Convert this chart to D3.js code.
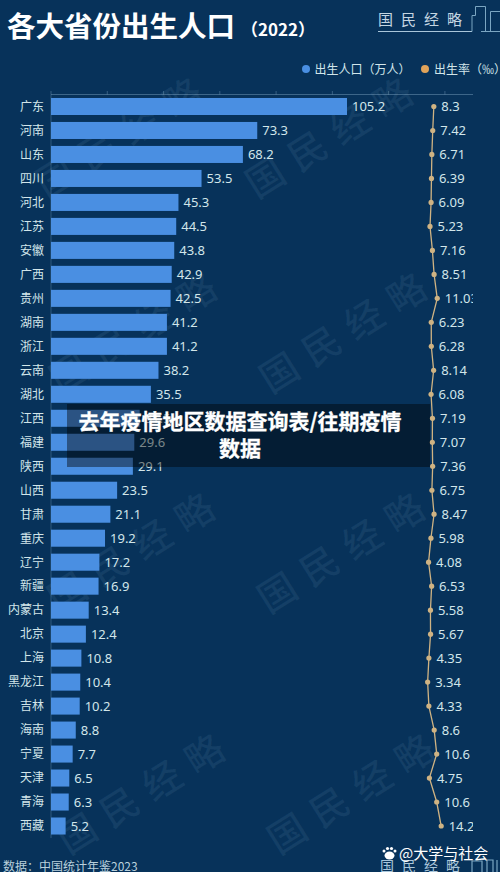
<!DOCTYPE html>
<html><head><meta charset="utf-8">
<script src="https://cdn.jsdelivr.net/npm/d3@7/dist/d3.min.js"></script>
<style>html,body{margin:0;padding:0;background:#07325a;overflow:hidden}svg{display:block}
text{font-family:"Noto Sans CJK SC","Noto Sans",sans-serif}</style></head><body>
<script>
const provinces=["广东","河南","山东","四川","河北","江苏","安徽","广西","贵州","湖南","浙江","云南","湖北","江西","福建","陕西","山西","甘肃","重庆","辽宁","新疆","内蒙古","北京","上海","黑龙江","吉林","海南","宁夏","天津","青海","西藏"];
const births=[105.2,73.3,68.2,53.5,45.3,44.5,43.8,42.9,42.5,41.2,41.2,38.2,35.5,31.5,29.6,29.1,23.5,21.1,19.2,17.2,16.9,13.4,12.4,10.8,10.4,10.2,8.8,7.7,6.5,6.3,5.2];
const rates=[8.3,7.42,6.71,6.39,6.09,5.23,7.16,8.51,11.03,6.23,6.28,8.14,6.08,7.19,7.07,7.36,6.75,8.47,5.98,4.08,6.53,5.58,5.67,4.35,3.34,4.33,8.6,10.6,4.75,10.6,14.2];
const axisTicks=[0,20,40,60,80,100,120,140];
const legendLabels=["出生人口（万人）","出生率（‰）"];
const overlayLines=["去年疫情地区数据查询表/往期疫情","数据"];
const watermarkCentres=[[334,135],[348,330],[346,550],[356,791],[124,135],[138,330],[136,550],[146,791]];
const W=500,H=872;
const svg=d3.select("body").append("svg").attr("width",W).attr("height",H);
const blue="#4a8fe2",gold="#cfb383",labelC="#d2e6ea";
svg.append("rect").attr("width",W).attr("height",H).attr("fill","#07325a");

svg.append("defs").append("clipPath").attr("id","plotClip").append("rect").attr("x",0).attr("y",0).attr("width",473).attr("height",H);

// watermarks
svg.append("g").selectAll("text").data(watermarkCentres).join("text")
  .attr("transform",d=>`translate(${d[0]},${d[1]}) rotate(-32)`).attr("text-anchor","middle").attr("dy",".36em")
  .attr("font-size",38).attr("font-weight",500).attr("letter-spacing",12).attr("fill","#9cc4e0").attr("fill-opacity",.09)
  .text("国民经略");

const x=d3.scaleLinear().domain([0,105.2]).range([51,347]);
const xr=d3.scaleLinear().domain([5.23,14.2]).range([430,441.2]);
const y=d3.scaleBand().domain(provinces).range([94.5,838]).paddingInner(.29).paddingOuter(.145);
const cy=d=>y(d)+y.bandwidth()/2;

// axis
svg.append("line").attr("x1",51).attr("x2",51).attr("y1",94.5).attr("y2",838).attr("stroke","#8fb4d0").attr("stroke-opacity",.3);
svg.append("line").attr("x1",51).attr("x2",473).attr("y1",94.5).attr("y2",94.5).attr("stroke","#8fb4d0").attr("stroke-opacity",.4);
svg.append("g").selectAll("line").data(axisTicks).join("line")
  .attr("x1",d=>x(d)).attr("x2",d=>x(d)).attr("y1",91).attr("y2",94.5)
  .attr("stroke","#8fb4d0").attr("stroke-opacity",.35);

// bars
svg.append("g").selectAll("rect").data(births).join("rect")
  .attr("x",x(0)).attr("y",(d,i)=>y(provinces[i])).attr("width",d=>x(d)-x(0)).attr("height",y.bandwidth()).attr("fill",blue);
svg.append("g").selectAll("text").data(births).join("text")
  .attr("x",d=>x(d)+5).attr("y",(d,i)=>cy(provinces[i])).attr("dy",".36em")
  .attr("font-size",13).style("font-family","'Noto Sans'").attr("fill",labelC).text(d=>d);
svg.append("g").selectAll("text").data(provinces).join("text")
  .attr("x",44).attr("y",d=>cy(d)).attr("dy",".36em").attr("text-anchor","end")
  .attr("font-size",12).attr("fill",labelC).text(d=>d);

// line
const line=d3.line().x(d=>xr(d)).y((d,i)=>cy(provinces[i]));
svg.append("path").datum(rates).attr("d",line).attr("fill","none").attr("stroke",gold).attr("stroke-width",1.3);
svg.append("g").selectAll("circle").data(rates).join("circle")
  .attr("cx",d=>xr(d)).attr("cy",(d,i)=>cy(provinces[i])).attr("r",2.6).attr("fill",gold);
svg.append("g").attr("clip-path","url(#plotClip)").selectAll("text").data(rates).join("text")
  .attr("x",d=>xr(d)+7.5).attr("y",(d,i)=>cy(provinces[i])).attr("dy",".36em")
  .attr("font-size",13).style("font-family","'Noto Sans'").attr("fill",labelC).text(d=>d);

// title
svg.append("text").attr("x",7).attr("y",37).attr("font-size",28.5).attr("font-weight",700).attr("fill","#fff").text("各大省份出生人口");
svg.append("text").attr("x",241).attr("y",36).attr("font-size",17).attr("font-weight",700).attr("fill","#fff").text("（2022）");

// logo top
svg.append("text").attr("x",378).attr("y",24.5).attr("font-size",15).attr("letter-spacing",8).attr("fill","#c5d6e2").text("国民经略");
svg.append("line").attr("x1",378).attr("x2",472).attr("y1",31.5).attr("y2",31.5).attr("stroke","#a9c6da").attr("stroke-width",1);
svg.append("path").attr("d","M472 31.5V15.5H475.5V6.5H485.5V31.5M490.5 31.5V11.5H500M481 31.5H500").attr("fill","none").attr("stroke","#7ba6c2").attr("stroke-width",1);

// legend
svg.append("circle").attr("cx",306).attr("cy",69).attr("r",4).attr("fill",blue);
svg.append("text").attr("x",314.5).attr("y",73.5).attr("font-size",12).attr("fill",labelC).text(legendLabels[0]);
svg.append("circle").attr("cx",425).attr("cy",69).attr("r",4).attr("fill","#e0a35a");
svg.append("text").attr("x",434).attr("y",73.5).attr("font-size",12).attr("fill",labelC).text(legendLabels[1]);

// source
svg.append("text").attr("x",3).attr("y",871).attr("font-size",12).attr("fill","#b9d0dc").text("数据：中国统计年鉴2023");

// bottom logo
svg.append("text").attr("x",380).attr("y",871).attr("font-size",14).attr("letter-spacing",8).attr("fill","#a9c6da").text("国民经略");
svg.append("path").attr("d","M472 872V861H482V872M487 872V860H493V872M497 872V860").attr("fill","none").attr("stroke","#7ba6c2").attr("stroke-width",1.2);

// paw + platform mark
const paw=svg.append("g").attr("fill","#fff");
[[384,851,1.5],[387.5,848.5,1.6],[391.5,848.5,1.6],[395,851,1.5]].forEach(d=>paw.append("circle").attr("cx",d[0]).attr("cy",d[1]).attr("r",d[2]));
paw.append("ellipse").attr("cx",389.5).attr("cy",855.5).attr("rx",5).attr("ry",4);
svg.append("text").attr("x",399).attr("y",858.5).attr("font-size",15).attr("fill","#fff").text("@大学与社会");

// overlay
svg.append("rect").attr("x",67).attr("y",404).attr("width",363).attr("height",63).attr("fill","#000").attr("fill-opacity",.42);
svg.append("g").selectAll("text").data(overlayLines).join("text")
  .attr("x",240).attr("y",(d,i)=>429+i*26.5).attr("text-anchor","middle")
  .attr("font-size",21).attr("font-weight",700).attr("fill","#fff").attr("stroke","#fff").attr("stroke-width",.3).text(d=>d);
</script></body></html>
